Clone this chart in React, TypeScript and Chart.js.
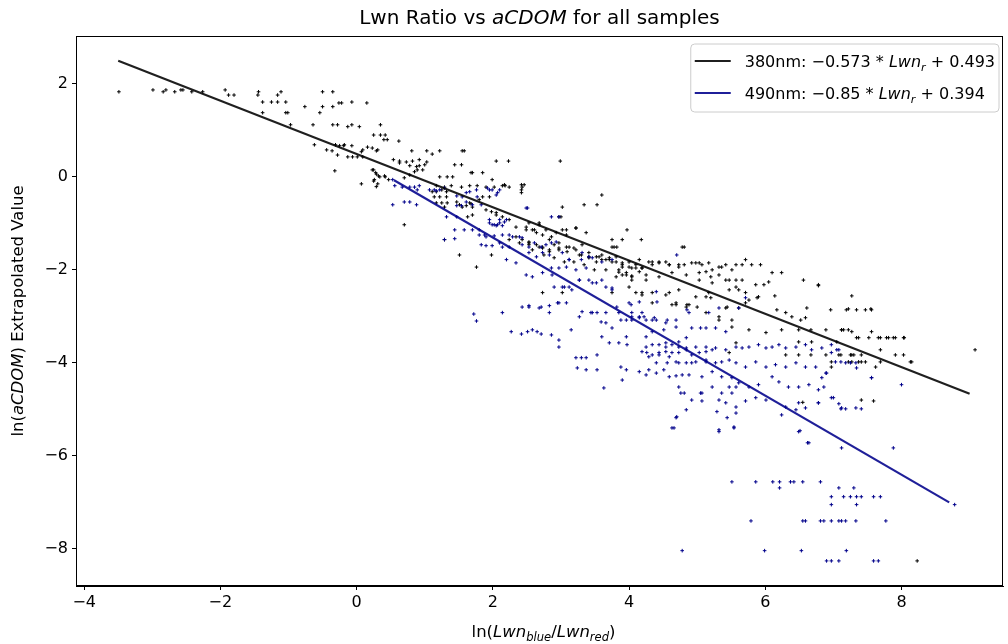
import React, { useEffect, useRef } from 'react';
import { Chart, registerables } from 'chart.js';

Chart.register(...registerables);

// ---------- data ----------
const xTicks = [-4, -2, 0, 2, 4, 6, 8];
const yTicks = [-8, -6, -4, -2, 0, 2];
const xRange = [-4.12, 9.49];
const yRange = [-8.8, 3.03];

const fit380Slope = -0.573;
const fit380Intercept = 0.493;
const fit380Span = [-3.5, 9.0];
const fit490Slope = -0.85;
const fit490Intercept = 0.394;
const fit490Span = [0.55, 8.7];

const points380: number[][] = [
  [-3.49,1.83],[-2.99,1.87],[-2.84,1.83],[-2.80,1.87],[-2.67,1.83],[-2.58,1.87],[-2.55,1.87],[-2.42,1.83],[-2.26,1.83],[-1.93,1.87],[-1.88,1.76],[-1.80,1.76],[-1.45,1.76],[-1.44,1.83],[-1.38,1.61],[-1.25,1.61],[-1.16,1.61],[-1.04,1.61],[-1.16,1.76],[-1.11,1.83],[-1.04,1.38],[-1.01,1.38],[-1.38,1.38],[-0.97,1.12],[-0.76,1.51],[-0.64,1.12],[-0.54,1.38],[-0.50,1.51],[-0.50,1.83],[-0.35,1.83],[-0.35,1.51],[-0.26,1.59],[-0.22,1.59],[-0.07,1.61],[0.15,1.59],[-0.62,0.69],[-0.44,0.58],[-0.35,1.12],[-0.28,1.12],[-0.13,1.08],[-0.07,1.12],[0.04,1.08],[-0.31,0.69],[-0.25,0.67],[-0.19,0.67],[-0.07,0.67],[-0.28,0.47],[-0.13,0.43],[-0.06,0.43],[0.01,0.43],[0.09,0.43],[0.09,0.58],[0.16,0.64],[0.23,0.62],[0.31,0.58],[0.25,0.90],[0.35,0.90],[0.42,0.90],[0.40,0.80],[0.45,0.80],[0.35,1.12],[-0.32,0.13],[0.07,-0.15],[0.25,0.15],[0.28,0.09],[0.25,-0.09],[0.31,-0.15],[0.32,0.02],[0.42,0.00],[0.54,0.37],[-0.36,0.56],[0.62,0.77],[-0.18,0.69],[0.07,0.54],[0.29,0.56],[0.81,0.56],[1.03,0.56],[1.11,0.49],[1.22,0.56],[1.55,0.56],[1.58,0.56],
  [0.63,0.34],[0.73,0.32],[0.82,0.34],[0.92,0.37],[1.03,0.32],[0.63,0.30],[0.78,0.24],[0.88,0.22],[0.92,0.24],[1.00,0.26],[0.85,0.11],[0.89,0.15],[0.97,0.15],[1.44,0.26],[1.54,0.26],[1.68,0.09],[1.70,0.09],[1.85,0.09],[2.05,0.34],[0.23,0.15],[0.29,0.06],[0.34,0.00],[0.41,0.02],[0.26,-0.06],[0.70,-0.02],[0.78,0.04],[1.22,0.00],[1.33,0.00],[1.41,0.00],[1.17,-0.19],[1.29,-0.22],[1.39,-0.19],[1.54,-0.22],[1.66,-0.19],[1.77,-0.19],[1.90,-0.22],[2.02,-0.22],[2.14,-0.19],[2.24,-0.22],[1.11,-0.32],[1.17,-0.32],[1.25,-0.28],[1.32,-0.32],[1.14,-0.43],[1.22,-0.43],[1.32,-0.43],[1.25,-0.56],[1.33,-0.56],[1.51,-0.60],[1.61,-0.62],[1.68,-0.58],[1.70,-0.65],[1.63,-0.86],[1.70,-0.82],[1.85,-0.43],[1.95,-0.43],[1.98,-0.75],[2.05,-0.82],[0.29,-0.21],[0.47,-0.06],[0.70,-1.03],[2.23,0.34],[2.99,0.34],[1.99,-0.06],[2.18,-0.19],[2.42,-0.17],[2.42,-0.28],[2.17,-0.17],[2.46,-0.17],[2.42,-0.34],[3.02,-0.65],[3.34,-0.60],[3.53,-0.60],[3.60,-0.39],[2.97,-0.86],[3.00,-0.86],[3.22,-1.10],[3.08,-1.14],[3.97,-1.14],[3.75,-1.35],[3.90,-1.35],[4.18,-1.35],[1.29,-1.35],[1.51,-1.68],[1.76,-1.94],[1.98,-1.68],
  [1.17,-0.56],[1.29,-0.65],[1.47,-0.54],[1.55,-0.65],[1.66,-0.56],[1.80,-0.49],[1.90,-0.71],[2.05,-0.77],[2.14,-0.86],[2.24,-0.92],[2.34,-1.08],[2.49,-1.14],[2.64,-1.20],[2.73,-1.25],[2.86,-1.29],[2.43,-1.35],[2.53,-1.46],[2.58,-1.57],[2.73,-1.51],[2.83,-1.61],[2.97,-1.42],[3.08,-1.51],[3.22,-1.57],[3.31,-1.46],[3.41,-1.63],[3.52,-1.72],[3.66,-1.78],[3.81,-1.72],[3.90,-1.85],[4.00,-1.94],[4.10,-1.96],[3.66,-2.00],[3.81,-2.15],[3.96,-2.11],[4.04,-2.22],[4.00,-2.37],[4.19,-2.49],[2.43,-0.22],[2.49,-1.08],[2.58,-1.14],[2.68,-1.03],[2.78,-1.14],[2.93,-1.20],[3.02,-1.14],[3.08,-1.25],[3.22,-1.10],[3.37,-1.20],[2.24,-1.35],[2.39,-1.42],[2.53,-1.40],[2.68,-1.51],[2.83,-1.57],[2.97,-1.53],[3.12,-1.51],[3.27,-1.68],[3.41,-1.72],[3.60,-1.78],[3.75,-1.83],[3.90,-1.94],[4.04,-1.96],[4.19,-1.96],[4.34,-1.89],[4.54,-1.83],[4.73,-1.89],[4.92,-1.85],[5.07,-1.89],[5.22,-2.00],[5.36,-1.94],[5.51,-2.00],[5.66,-1.89],[4.04,-2.15],[4.25,-2.22],[4.44,-2.15],[4.63,-2.06],[4.84,-2.11],[5.03,-2.22],[5.22,-2.28],[5.42,-2.22],[5.57,-2.37],[4.34,-2.49],[4.54,-2.54],[4.73,-2.43],[4.98,-2.58],[5.17,-2.49],[4.69,-2.75],[4.84,-2.80],[5.13,-2.92],[5.32,-3.01],[5.51,-3.23],[5.57,-3.57],[5.47,-3.78],[5.42,-2.82],[5.71,-2.71],[2.53,-0.99],[2.68,-0.99],[2.61,-1.14],[4.15,-1.78],[4.29,-1.83],[4.44,-1.83],[4.59,-1.89],[4.73,-1.94],[4.81,-1.89],[3.75,-1.51],[3.78,-1.51],[3.82,-1.51],[3.56,-1.72],[3.71,-1.78],[4.59,-2.49],[4.69,-2.71],[4.88,-2.75],[4.19,-2.54],[4.34,-2.71],[4.81,-1.51],[4.78,-1.51],[2.73,-2.49],[3.02,-2.49],[3.75,-2.49],[4.10,-2.49],[3.85,-2.05],[3.90,-2.11],
  [2.34,-1.29],[2.53,-1.42],[2.64,-1.46],[2.73,-1.53],[2.83,-1.35],[2.90,-1.46],[2.97,-1.57],[3.09,-1.61],[3.19,-1.53],[3.30,-1.68],[3.41,-1.74],[3.52,-1.83],[3.60,-1.68],[3.71,-1.74],[3.81,-1.83],[3.90,-1.89],[4.00,-1.83],[4.10,-1.89],[4.19,-1.96],[3.85,-2.00],[3.96,-2.06],[4.04,-2.13],[4.15,-2.04],[4.25,-2.11],[3.49,-2.00],[3.34,-1.89],[3.19,-1.83],[3.05,-1.83],[2.90,-1.74],[2.75,-1.68],
  [4.34,-1.83],[4.44,-1.85],[4.59,-1.89],[4.98,-1.85],[5.03,-1.85],[5.17,-1.85],[5.32,-1.94],[5.42,-1.89],[5.57,-1.89],[5.71,-1.78],[5.80,-1.89],[5.93,-1.89],[5.03,-2.06],[5.13,-2.04],[5.20,-2.15],[5.32,-2.11],[5.47,-2.22],[5.57,-2.22],[5.66,-2.22],[6.10,-2.06],[6.24,-2.06],[6.56,-2.22],[6.78,-2.34],[5.86,-2.32],[5.98,-2.32],[6.05,-2.26],[5.13,-2.58],[5.20,-2.60],[5.47,-2.43],[5.61,-2.43],[5.71,-2.49],[5.88,-2.60],[6.14,-2.56],[4.63,-2.75],[4.85,-2.75],[5.00,-2.80],[5.44,-2.80],[5.61,-2.82],[6.17,-2.86],[6.30,-2.92],[6.39,-3.01],[6.52,-3.08],[6.59,-3.03],[6.61,-2.82],[6.96,-2.86],[7.19,-2.86],[7.34,-2.86],[7.47,-2.86],[7.56,-2.86],[5.32,-3.08],[5.51,-3.08],[5.76,-3.29],[6.01,-3.35],[6.24,-3.29],[6.49,-3.29],[6.67,-3.29],[6.89,-3.29],[7.12,-3.29],[7.22,-3.29],[6.49,-3.55],[6.68,-3.55],[7.05,-3.55],[7.34,-3.46],[7.52,-3.46],[7.66,-3.46],[7.78,-3.46],[7.91,-3.46],[8.03,-3.46],[7.56,-3.33],[6.30,-3.83],[6.49,-3.83],[6.67,-3.83],[6.89,-3.83],[6.97,-4.09],[7.08,-3.83],[7.27,-3.83],[7.27,-3.98],[7.47,-3.98],[7.62,-4.09],[7.91,-3.83],[8.03,-3.83],[8.13,-3.98],[6.97,-3.98],[5.76,-2.65],[5.90,-2.58],[7.41,-4.80],[7.59,-4.82],[6.55,-4.85],
  [6.78,-2.32],[7.27,-2.56],[7.22,-2.84],[7.55,-2.84],[7.12,-3.29],[7.15,-3.29],[7.27,-3.33],[7.37,-3.46],[7.69,-3.46],[7.81,-3.46],[7.88,-3.46],[8.04,-3.46],[7.69,-3.72],[9.08,-3.72],[7.11,-3.83],[7.25,-3.83],[7.30,-3.83],[7.41,-3.83],[7.22,-3.98],[7.37,-3.98],[7.41,-3.98],[7.69,-3.98],[8.15,-3.98],[8.23,-8.26],
];

const points490: number[][] = [
  [0.53,-0.06],[0.53,-0.60],[0.70,-0.54],[0.78,-0.54],[0.88,-0.60],[0.78,-0.22],[0.85,-0.22],[0.92,-0.19],[0.89,-0.28],[1.14,-0.28],[1.22,-0.28],[1.47,-0.41],[1.55,-0.43],[1.61,-0.34],[1.47,-0.62],[1.54,-0.62],[1.32,-0.86],[1.47,-0.86],[1.44,-1.14],[1.58,-1.14],[1.70,-1.14],[1.29,-1.35],[1.44,-1.33],[1.77,-0.43],[1.99,-0.28],[2.05,-0.39],[1.95,-0.92],[1.99,-1.03],[2.07,-1.03],[1.80,-1.14],[1.88,-1.25],
  [0.56,-0.19],[0.67,-0.22],[1.07,-0.28],[1.17,-0.30],[1.29,-0.24],[1.66,-0.32],[1.76,-0.28],[1.95,-0.28],[2.10,-0.28],[1.61,-0.54],[1.70,-0.60],[1.83,-0.60],[2.05,-1.05],[2.14,-1.05],[2.20,-0.92],[2.10,-0.92],[1.83,-1.46],[1.90,-1.48],[1.99,-1.48],[2.10,-1.42],[2.14,-1.51],[2.24,-1.51],[2.24,-1.25],[2.39,-1.29],[2.43,-1.31],[2.49,-0.67],[2.51,-0.67],[2.86,-0.86],[2.97,-0.86],
  [2.53,-1.63],[2.64,-1.72],[2.73,-1.63],[2.83,-1.68],[3.02,-1.63],[3.12,-1.78],[3.31,-1.63],[3.41,-1.72],[2.49,-2.11],[2.58,-2.15],[2.73,-2.06],[2.87,-2.11],[3.02,-2.37],[3.12,-2.37],[3.27,-2.22],[3.46,-2.28],[3.60,-2.22],[3.75,-2.43],[2.14,-2.92],[2.53,-2.80],[2.68,-2.82],[2.83,-2.92],[2.97,-2.71],[3.08,-2.71],[3.31,-2.90],[3.46,-2.92],[3.66,-2.92],[3.85,-2.92],[4.00,-2.71],[4.04,-3.01],[4.19,-2.92],
  [1.95,-0.99],[2.02,-1.03],[2.10,-0.99],[2.17,-0.97],[2.07,-0.34],[1.92,-0.24],[2.71,-1.51],[2.78,-1.46],[2.86,-1.42],[2.93,-1.40],[1.80,-1.25],[1.90,-1.29],[2.02,-1.27],[2.14,-1.25],[2.29,-1.29],[2.43,-1.46],[2.53,-1.51],[2.61,-1.42],[2.20,-1.78],[2.34,-1.85],[2.86,-1.96],[2.97,-1.96],[3.08,-1.94],[3.22,-2.00],[3.37,-1.96],[3.12,-1.78],[3.30,-1.78],[3.46,-1.74],[3.60,-1.83],[3.75,-1.78],[2.90,-2.37],[3.05,-2.37],[3.16,-2.43],[3.27,-2.22],[3.41,-2.22],[3.52,-2.28],[3.66,-2.37],[3.75,-2.39],[2.43,-2.80],[2.53,-2.77],[2.71,-2.80],[2.83,-2.77],[2.95,-2.71],[2.27,-3.33],[2.42,-3.38],[2.51,-3.33],[2.58,-3.29],[2.65,-3.33],[2.71,-3.38],[2.86,-3.40],[2.97,-3.51],[2.97,-3.66],[3.15,-3.29],[3.22,-3.89],[3.30,-3.89],[3.37,-3.89],[3.53,-3.83],[3.24,-4.11],[3.37,-4.15],[3.53,-4.15],[3.27,-3.01],[3.44,-2.92],[3.53,-2.92],[3.59,-3.12],[3.66,-3.14],[3.75,-3.25],[3.60,-3.44],[3.71,-3.57],[3.85,-3.57],[3.97,-3.61],[3.96,-3.44],[3.88,-4.09],[3.96,-4.15],[3.90,-4.37],[3.63,-4.54],[3.82,-2.80],[3.88,-3.08],[3.96,-3.08],[4.04,-3.08],[4.15,-3.03],[4.25,-3.08],[4.37,-3.03],[4.03,-2.75],[4.04,-2.92],[4.19,-3.76],[4.26,-3.78],[4.34,-3.83],[4.44,-3.78],[4.54,-3.76],[4.63,-3.78],[4.73,-3.78],[4.84,-3.72],[4.92,-3.83],[5.03,-3.78],[5.13,-3.76],[5.22,-3.72],[4.40,-4.00],[4.56,-4.00],[4.73,-4.00],[4.92,-4.00],[5.13,-3.98],[4.15,-4.19],[4.25,-4.26],[4.40,-4.22],[4.59,-4.30],[4.78,-4.26],[4.54,-3.66],[4.73,-3.55],[4.84,-3.46],[4.25,-3.44],[4.34,-3.33],[4.51,-3.29],[4.40,-3.08],[4.54,-3.14],[4.69,-3.23],[4.73,-4.52],[4.81,-4.65],[4.92,-4.80],[5.07,-4.65],[5.22,-4.52],[5.32,-4.80],[5.42,-4.86],[5.51,-4.65],[5.57,-4.95],[4.70,-5.16],[4.63,-5.40],[5.32,-5.44],[5.44,-5.18],[5.54,-5.40],
  [4.70,-1.68],[4.15,-2.69],[4.40,-2.47],[4.41,-2.69],[4.15,-3.01],[4.22,-3.01],[4.34,-3.08],[4.56,-3.08],[4.69,-3.08],[4.85,-2.86],[4.88,-2.92],[4.92,-3.25],[5.05,-3.25],[5.13,-3.25],[5.27,-3.25],[5.42,-3.33],[5.17,-2.92],[5.61,-2.82],[5.71,-2.60],[5.32,-2.82],
  [4.25,-3.66],[4.34,-3.61],[4.44,-3.61],[4.54,-3.57],[4.63,-3.61],[4.73,-3.66],[4.84,-3.68],[4.98,-3.66],[5.13,-3.66],[5.27,-3.68],[5.42,-3.72],[5.57,-3.66],[5.66,-3.68],[5.76,-3.66],[5.90,-3.61],[6.01,-3.68],[6.10,-3.66],[6.20,-3.61],[6.30,-3.68],[6.45,-3.66],[6.59,-3.61],[6.68,-3.72],[6.83,-3.68],[6.97,-3.61],[7.08,-3.72],
  [4.29,-3.87],[4.44,-3.83],[4.59,-3.87],[4.69,-3.98],[4.84,-4.00],[4.98,-3.98],[5.13,-3.94],[5.27,-4.00],[5.36,-3.98],[5.47,-3.94],[5.57,-4.00],[5.71,-4.09],[5.86,-3.98],[6.01,-4.09],[6.15,-4.04],[6.30,-4.09],[6.45,-4.00],[6.59,-4.09],[6.74,-4.09],[6.89,-4.22],[7.03,-3.98],[7.18,-4.00],
  [4.29,-4.15],[4.51,-4.15],[4.69,-4.28],[4.88,-4.26],[5.07,-4.30],[5.22,-4.19],[5.36,-4.30],[5.51,-4.32],[5.61,-4.43],[5.76,-4.52],[5.90,-4.47],[6.10,-4.30],[6.20,-4.41],[6.34,-4.52],[6.49,-4.52],[6.64,-4.47],[6.86,-4.52],[7.56,-4.32],[8.00,-4.47],
  [4.76,-4.65],[5.05,-4.65],[5.07,-4.82],[5.36,-4.65],[5.47,-4.52],[5.57,-4.52],[5.71,-4.82],[5.86,-4.75],[6.01,-4.80],[6.30,-4.95],[6.49,-4.86],[6.59,-4.97],[6.78,-4.86],[6.97,-4.75],[7.12,-4.97],[7.33,-4.97],[4.84,-5.01],[5.29,-5.05],[5.57,-5.08],[6.24,-5.12],[6.45,-5.01],
  [4.69,-5.18],[4.66,-5.40],[5.32,-5.48],[6.49,-5.48],[6.64,-5.72],[7.12,-5.83],[7.88,-5.83],[5.54,-5.38],[6.51,-5.46],[6.62,-5.72],
  [7.05,-3.72],[6.97,-3.78],[7.11,-3.98],[7.25,-4.00],[7.33,-4.00],[7.34,-4.11],[6.90,-4.22],[6.83,-4.32],[7.56,-4.32],[6.78,-4.58],[6.78,-4.86],[7.00,-4.75],[7.08,-4.88],[7.11,-4.99],[7.18,-4.99],[7.41,-4.99],
  [5.51,-6.56],[5.86,-6.56],[6.11,-6.56],[6.21,-6.56],[6.37,-6.56],[6.42,-6.56],[6.55,-6.56],[6.81,-6.56],[6.21,-6.69],[7.08,-6.69],[7.30,-6.69],[6.97,-6.88],[7.15,-6.88],[7.25,-6.88],[7.34,-6.88],[7.41,-6.88],[7.59,-6.88],[7.69,-6.88],[6.97,-7.05],[7.34,-7.05],[8.78,-7.05],[5.79,-7.40],[6.55,-7.40],[6.59,-7.40],[6.81,-7.40],[6.86,-7.40],[6.97,-7.40],[7.08,-7.40],[7.12,-7.40],[7.18,-7.40],[7.33,-7.40],[7.77,-7.40],[4.78,-8.04],[5.99,-8.04],[6.53,-8.04],[7.19,-8.04],[6.90,-8.26],[6.97,-8.26],[7.08,-8.26],[7.59,-8.26],[7.66,-8.26],
  [1.72,-2.95],[1.76,-3.10],
];

const titleSegs = [{ t: 'Lwn Ratio vs ' }, { t: 'aCDOM', it: true }, { t: ' for all samples' }];
const xLabelSegs = [{ t: 'ln(' }, { t: 'Lwn', it: true }, { t: 'blue', it: true, sub: true }, { t: '/' }, { t: 'Lwn', it: true }, { t: 'red', it: true, sub: true }, { t: ')' }];
const yLabelSegs = [{ t: 'ln(' }, { t: 'aCDOM', it: true }, { t: ') Extrapolated Value' }];
const legend380 = [{ t: '380nm: \u22120.573 * ' }, { t: 'Lwn', it: true }, { t: 'r', it: true, sub: true }, { t: ' + 0.493' }];
const legend490 = [{ t: '490nm: \u22120.85 * ' }, { t: 'Lwn', it: true }, { t: 'r', it: true, sub: true }, { t: ' + 0.394' }];

const COLOR380 = '#000000';
const COLOR490 = '#00008b';
const LINE380 = 'rgba(0,0,0,0.88)';
const LINE490 = 'rgba(0,0,139,0.88)';
const FONT = "'DejaVu Sans', sans-serif";
const TICK_SIZE = 16;
const LABEL_SIZE = 16.5;
const TITLE_SIZE = 20;
const LEGEND_SIZE = 16;

type Seg = { t: string; it?: boolean; sub?: boolean };

function segFont(s: Seg, size: number) {
  const sz = s.sub ? size * 0.7 : size;
  return `${s.it ? 'italic ' : ''}${sz}px ${FONT}`;
}
function measureRich(ctx: CanvasRenderingContext2D, segs: Seg[], size: number) {
  let w = 0;
  for (const s of segs) {
    ctx.font = segFont(s, size);
    w += ctx.measureText(s.t).width;
  }
  return w;
}
function drawRich(ctx: CanvasRenderingContext2D, segs: Seg[], x: number, y: number, size: number, align: 'left' | 'center') {
  const w = measureRich(ctx, segs, size);
  let cx = align === 'center' ? x - w / 2 : x;
  ctx.textBaseline = 'alphabetic';
  ctx.textAlign = 'left';
  ctx.fillStyle = '#000';
  for (const s of segs) {
    ctx.font = segFont(s, size);
    ctx.fillText(s.t, cx, s.sub ? y + size * 0.22 : y);
    cx += ctx.measureText(s.t).width;
  }
}

function fitLine(slope: number, intercept: number, span: number[]) {
  return span.map((x) => ({ x, y: slope * x + intercept }));
}

const fmt = (v: number) => String(v).replace('-', '\u2212');

const decorPlugin = {
  id: 'decor',
  afterDraw(chart: any) {
    const ctx: CanvasRenderingContext2D = chart.ctx;
    const a = chart.chartArea;
    ctx.save();
    // frame (all four spines)
    ctx.strokeStyle = '#000';
    ctx.lineWidth = 1;
    ctx.strokeRect(Math.round(a.left) + 0.5, Math.round(a.top) + 0.5, Math.round(a.right - a.left) - 1, Math.round(a.bottom - a.top) - 1);
    const cx = (a.left + a.right) / 2;
    // title
    drawRich(ctx, titleSegs, cx, 24, TITLE_SIZE, 'center');
    // x label
    drawRich(ctx, xLabelSegs, cx + 4, 637, LABEL_SIZE, 'center');
    // y label
    ctx.save();
    ctx.translate(23, (a.top + a.bottom) / 2);
    ctx.rotate(-Math.PI / 2);
    drawRich(ctx, yLabelSegs, 0, 0, LABEL_SIZE, 'center');
    ctx.restore();
    // legend
    const textW = Math.max(measureRich(ctx, legend380, LEGEND_SIZE), measureRich(ctx, legend490, LEGEND_SIZE));
    const lw = textW + 58;
    const lx = a.right - 4 - lw;
    const ly = a.top + 8;
    const lh = 68;
    ctx.beginPath();
    const r = 4;
    ctx.moveTo(lx + r, ly);
    ctx.lineTo(lx + lw - r, ly);
    ctx.quadraticCurveTo(lx + lw, ly, lx + lw, ly + r);
    ctx.lineTo(lx + lw, ly + lh - r);
    ctx.quadraticCurveTo(lx + lw, ly + lh, lx + lw - r, ly + lh);
    ctx.lineTo(lx + r, ly + lh);
    ctx.quadraticCurveTo(lx, ly + lh, lx, ly + lh - r);
    ctx.lineTo(lx, ly + r);
    ctx.quadraticCurveTo(lx, ly, lx + r, ly);
    ctx.closePath();
    ctx.fillStyle = 'rgba(255,255,255,0.8)';
    ctx.fill();
    ctx.strokeStyle = '#cccccc';
    ctx.stroke();
    const rows = [
      { segs: legend380, color: LINE380, y: ly + 17 },
      { segs: legend490, color: LINE490, y: ly + 49 },
    ];
    for (const row of rows) {
      ctx.strokeStyle = row.color;
      ctx.lineWidth = 2;
      ctx.beginPath();
      ctx.moveTo(lx + 4, row.y);
      ctx.lineTo(lx + 40, row.y);
      ctx.stroke();
      drawRich(ctx, row.segs, lx + 54, row.y + 6, LEGEND_SIZE, 'left');
    }
    ctx.restore();
  },
};

export default function App() {
  const ref = useRef<HTMLCanvasElement | null>(null);
  useEffect(() => {
    document.body.style.margin = '0';
    const canvas = ref.current;
    if (!canvas) return;
    const chart = new Chart(canvas, {
      type: 'scatter',
      data: {
        datasets: [
          {
            label: '380nm points',
            data: points380.map(([x, y]) => ({ x, y })),
            pointStyle: 'cross',
            pointRadius: 1.8,
            borderWidth: 1,
            borderColor: COLOR380,
            backgroundColor: COLOR380,
            order: 4,
          },
          {
            label: '490nm points',
            data: points490.map(([x, y]) => ({ x, y })),
            pointStyle: 'cross',
            pointRadius: 1.8,
            borderWidth: 1,
            borderColor: COLOR490,
            backgroundColor: COLOR490,
            order: 3,
          },
          {
            label: '380nm fit',
            data: fitLine(fit380Slope, fit380Intercept, fit380Span),
            showLine: true,
            pointRadius: 0,
            borderColor: LINE380,
            borderWidth: 2.2,
            order: 2,
          },
          {
            label: '490nm fit',
            data: fitLine(fit490Slope, fit490Intercept, fit490Span),
            showLine: true,
            pointRadius: 0,
            borderColor: LINE490,
            borderWidth: 2.2,
            order: 1,
          },
        ] as any,
      },
      options: {
        responsive: false,
        animation: false,
        events: [],
        layout: { padding: { top: 36, right: 3, left: 0, bottom: 0 } },
        plugins: { legend: { display: false }, title: { display: false }, tooltip: { enabled: false } },
        scales: {
          x: {
            type: 'linear',
            min: xRange[0],
            max: xRange[1],
            afterBuildTicks: (s: any) => {
              s.ticks = xTicks.map((v) => ({ value: v }));
            },
            afterFit: (s: any) => {
              s.height = 58;
            },
            ticks: {
              color: '#000',
              font: { family: FONT, size: TICK_SIZE },
              padding: 3,
              maxRotation: 0,
              autoSkip: false,
              callback: (v: any) => fmt(Number(v)),
            },
            grid: { display: true, drawOnChartArea: false, drawTicks: true, tickLength: 4, color: '#000' },
            border: { display: true, color: '#000' },
          },
          y: {
            type: 'linear',
            min: yRange[0],
            max: yRange[1],
            afterBuildTicks: (s: any) => {
              s.ticks = yTicks.map((v) => ({ value: v }));
            },
            afterFit: (s: any) => {
              s.width = 76;
            },
            ticks: {
              color: '#000',
              font: { family: FONT, size: TICK_SIZE },
              padding: 4,
              autoSkip: false,
              callback: (v: any) => fmt(Number(v)),
            },
            grid: { display: true, drawOnChartArea: false, drawTicks: true, tickLength: 4, color: '#000' },
            border: { display: true, color: '#000' },
          },
        },
      },
      plugins: [decorPlugin],
    } as any);
    return () => chart.destroy();
  }, []);
  return (
    <div style={{ width: 1008, height: 644, background: '#fff' }}>
      <canvas ref={ref} width={1008} height={644} style={{ display: 'block' }} />
    </div>
  );
}
